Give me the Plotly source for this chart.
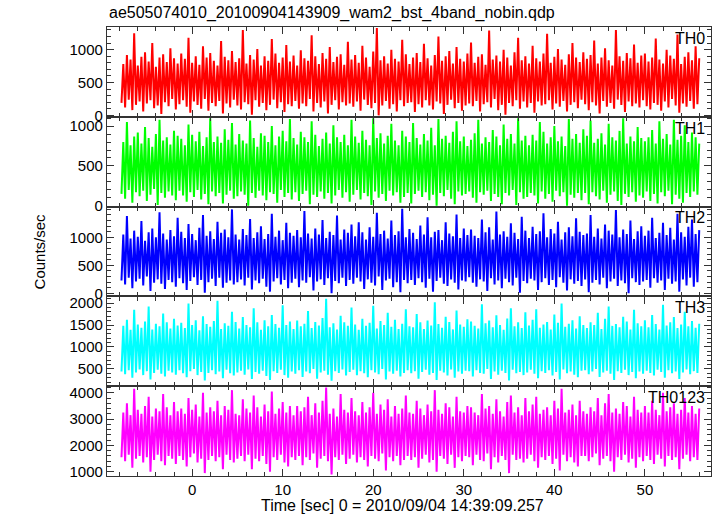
import plotly.graph_objects as go
from plotly.subplots import make_subplots
import numpy as np

title_text = "ae505074010_20100904143909_wam2_bst_4band_nobin.qdp"
band_names = ["TH0", "TH1", "TH2", "TH3", "TH0123"]
# time bins (sec): each bin holds the min and max count rate
t_start = -7.8
t_step = 0.4

th0_high = [
    780, 920, 850, 1250, 760, 890, 960, 820, 1100, 740, 880, 930, 810, 1020, 870, 790,
    940, 860, 1180, 800, 900, 770, 1050, 880, 950, 830, 760, 1130, 890, 840, 980, 810,
    870, 1300, 790, 920, 850, 1010, 760, 900, 830, 1160, 940, 800, 880, 1070, 820, 910,
    760, 990, 870, 830, 1220, 900, 780, 950, 860, 1040, 810, 890, 930, 770, 1120, 850,
    920, 800, 1060, 880, 740, 970, 1330, 840, 900, 790, 1000, 860, 820, 1150, 930, 780,
    880, 950, 810, 1090, 870, 760, 920, 1200, 830, 900, 980, 790, 1040, 860, 820, 940,
    1110, 800, 890, 930, 770, 1290, 850, 910, 820, 1000, 880, 760, 960, 1180, 840, 900,
    790, 1060, 870, 820, 940, 1240, 800, 890, 1010, 850, 770, 930, 1100, 880, 810, 960,
    860, 920, 1140, 790, 880, 1020, 840, 760, 1300, 900, 830, 950, 870, 1080, 800, 910,
    940, 820, 880, 1170, 850, 790, 1000, 910, 860, 1230, 780, 890, 960, 840, 1050, 870,
]
th0_low = [
    190, 120, 240, 80, 160, 210, 60, 180, 230, 110, 150, 20, 200, 140, 250, 90,
    170, 230, 130, 40, 210, 160, 100, 250, 70, 190, 140, 220, 30, 180, 120, 240,
    150, 90, 200, 170, 10, 230, 130, 190, 80, 160, 240, 110, 200, 50, 170, 140,
    220, 100, 180, 140, 250, 60, 190, 120, 210, 30, 160, 230, 90, 200, 150, 180,
    130, 210, 70, 240, 160, 110, 190, 0, 150, 220, 100, 170, 60, 230, 140, 190,
    200, 50, 170, 120, 230, 150, 90, 210, 180, 20, 160, 240, 110, 190, 70, 150,
    180, 140, 220, 60, 170, 200, 120, 250, 80, 160, 10, 190, 140, 230, 100, 210,
    120, 190, 40, 210, 150, 170, 230, 90, 180, 130, 220, 60, 160, 200, 110, 240,
    170, 80, 200, 150, 30, 220, 130, 190, 100, 240, 160, 50, 210, 140, 180, 120,
    230, 140, 90, 190, 160, 70, 210, 120, 250, 150, 40, 180, 130, 220, 100, 170,
]
th1_high = [
    800, 1050, 760, 870, 920, 780, 990, 850, 740, 900, 1080, 820, 860, 770, 940, 880,
    840, 760, 1020, 890, 810, 930, 750, 860, 1100, 800, 870, 790, 960, 830, 1040, 770,
    900, 820, 780, 1070, 850, 740, 910, 880, 800, 1000, 760, 870, 940, 810, 1090, 850,
    770, 930, 860, 800, 1060, 890, 750, 840, 920, 780, 1010, 860, 800, 890, 760, 1080,
    870, 790, 940, 830, 760, 1100, 850, 910, 780, 880, 1030, 820, 760, 940, 870, 800,
    1040, 850, 770, 900, 820, 980, 760, 1090, 840, 880, 790, 930, 1060, 810, 870, 750,
    830, 910, 1080, 780, 860, 800, 950, 870, 760, 1020, 840, 900, 780, 1100, 820, 880,
    760, 890, 820, 1050, 930, 780, 860, 1000, 810, 870, 750, 1090, 840, 900, 790, 960,
    880, 1070, 790, 840, 910, 770, 1030, 860, 820, 940, 1100, 780, 870, 810, 990, 850,
    810, 860, 950, 780, 1060, 840, 900, 770, 1080, 830, 880, 1010, 800, 920, 860, 780,
]
th1_low = [
    150, 90, 200, 40, 170, 120, 190, 60, 140, 210, 10, 160, 100, 180, 130, 70,
    190, 130, 50, 170, 110, 200, 80, 150, 20, 180, 120, 160, 30, 140, 190, 90,
    120, 180, 140, 0, 160, 100, 190, 130, 70, 170, 150, 40, 200, 110, 160, 80,
    170, 60, 150, 190, 20, 140, 110, 180, 90, 160, 30, 130, 200, 100, 170, 50,
    140, 200, 80, 160, 120, 10, 180, 100, 150, 60, 190, 130, 170, 40, 110, 160,
    30, 150, 190, 110, 170, 70, 140, 0, 160, 120, 200, 90, 20, 180, 130, 150,
    180, 100, 40, 170, 140, 190, 60, 150, 110, 20, 160, 130, 200, 10, 170, 90,
    110, 160, 130, 30, 180, 90, 150, 50, 190, 120, 170, 0, 140, 100, 160, 70,
    160, 20, 170, 120, 80, 190, 40, 140, 180, 60, 10, 150, 110, 170, 50, 130,
    100, 180, 60, 150, 30, 170, 120, 190, 20, 140, 90, 40, 160, 110, 180, 140,
]
th2_high = [
    1050, 1380, 980, 1120, 1010, 1290, 940, 1090, 1160, 1000, 1450, 1070, 960, 1130, 1020, 1350,
    1100, 990, 1240, 1060, 950, 1170, 1400, 1030, 1110, 970, 1280, 1080, 1140, 1000, 1500, 1050,
    960, 1150, 1040, 1330, 990, 1090, 1200, 970, 1060, 1420, 1010, 1120, 950, 1260, 1080, 1030,
    1130, 1000, 1470, 1070, 980, 1160, 1050, 1310, 990, 1100, 1040, 1390, 960, 1140, 1080, 1230,
    1020, 1270, 1090, 960, 1180, 1010, 1440, 1060, 1120, 980, 1300, 1040, 1110, 1510, 1000, 1150,
    1080, 970, 1210, 1050, 1360, 1000, 1100, 1130, 950, 1270, 1070, 1020, 1410, 990, 1160, 1040,
    1140, 1030, 990, 1320, 1090, 1180, 960, 1460, 1050, 1110, 1010, 1250, 1080, 970, 1370, 1120,
    990, 1190, 1060, 1110, 1430, 1000, 1150, 1070, 1280, 960, 1090, 1180, 1020, 1340, 1100, 1040,
    1070, 1400, 1010, 1160, 980, 1230, 1120, 1050, 1490, 1000, 1140, 1060, 1300, 970, 1110, 1200,
    1030, 1120, 1350, 990, 1080, 1260, 1040, 1170, 960, 1420, 1090, 1010, 1190, 1320, 1060, 1130,
]
th2_low = [
    230, 160, 280, 90, 210, 260, 140, 300, 40, 190, 250, 170, 80, 240, 200, 120,
    270, 180, 60, 220, 290, 150, 240, 10, 200, 260, 130, 280, 100, 190, 230, 160,
    200, 250, 140, 280, 70, 230, 180, 260, 120, 30, 210, 270, 160, 240, 90, 190,
    260, 110, 230, 190, 290, 50, 210, 250, 150, 270, 0, 220, 180, 280, 130, 240,
    170, 280, 210, 80, 250, 190, 140, 300, 60, 230, 260, 110, 200, 20, 240, 180,
    240, 150, 270, 200, 100, 260, 30, 220, 280, 170, 130, 250, 190, 70, 230, 210,
    290, 190, 120, 250, 210, 40, 270, 160, 230, 90, 260, 200, 140, 280, 10, 220,
    180, 260, 230, 60, 200, 270, 150, 240, 110, 290, 190, 50, 250, 170, 220, 130,
    250, 20, 190, 240, 160, 280, 90, 210, 260, 130, 230, 180, 0, 270, 200, 150,
    210, 240, 100, 270, 190, 230, 60, 260, 170, 210, 30, 250, 140, 280, 120, 200,
]
th3_high = [
    1480, 1620, 1390, 1850, 1510, 1440, 1580, 1920, 1400, 1530, 1470, 1760, 1560, 1420, 1640, 1490,
    1550, 1430, 1990, 1500, 1610, 1380, 1700, 1520, 1460, 1590, 2050, 1410, 1540, 1480, 1800, 1570,
    1420, 1680, 1500, 1450, 1880, 1560, 1390, 1610, 1470, 1730, 1520, 1440, 1950, 1500, 1580, 1410,
    1600, 1470, 1530, 1820, 1430, 1570, 1490, 1660, 2100, 1450, 1540, 1400, 1710, 1560, 1480, 1900,
    1510, 1390, 1640, 1480, 1550, 1940, 1420, 1590, 1500, 1780, 1460, 1620, 1410, 1530, 1860, 1470,
    1450, 1750, 1560, 1410, 1600, 1490, 2020, 1520, 1440, 1690, 1570, 1400, 1830, 1510, 1460, 1630,
    1580, 1480, 1420, 1970, 1540, 1600, 1450, 1720, 1500, 1390, 1650, 1880, 1470, 1560, 1430, 1790,
    1490, 1620, 1860, 1440, 1510, 1570, 1400, 1740, 1550, 1990, 1460, 1530, 1610, 1420, 1700, 1500,
    1430, 1560, 1500, 1780, 1410, 1640, 1920, 1480, 1520, 1450, 1690, 1580, 1400, 1850, 1540, 1470,
    1610, 1450, 1730, 1520, 1400, 1960, 1490, 1560, 1680, 1430, 1510, 1800, 1470, 1590, 1440, 1530,
]
th3_low = [
    440, 380, 470, 300, 420, 490, 360, 450, 260, 410, 480, 390, 330, 460, 420, 370,
    470, 400, 310, 450, 500, 360, 430, 240, 410, 470, 380, 440, 290, 480, 400, 350,
    420, 460, 370, 490, 270, 430, 390, 460, 340, 250, 450, 410, 480, 360, 300, 440,
    390, 470, 320, 440, 400, 500, 280, 420, 460, 370, 230, 450, 410, 490, 350, 430,
    480, 360, 450, 400, 310, 470, 420, 380, 500, 260, 440, 390, 460, 330, 410, 470,
    400, 450, 280, 430, 480, 370, 410, 250, 460, 420, 350, 490, 300, 440, 390, 460,
    450, 330, 470, 410, 390, 500, 270, 440, 370, 460, 410, 240, 480, 400, 430, 360,
    420, 480, 390, 290, 450, 410, 470, 350, 430, 260, 490, 400, 440, 370, 310, 460,
    470, 380, 440, 500, 320, 420, 460, 390, 250, 450, 410, 480, 360, 430, 290, 440,
    390, 460, 410, 350, 480, 430, 300, 470, 400, 440, 270, 420, 490, 380, 450, 410,
]
th0123_high = [
    3250, 3600, 3150, 4150, 3350, 3200, 3500, 3850, 3100, 3400, 3300, 3950, 3450, 3150, 3650, 3300,
    3400, 3200, 3800, 3350, 3550, 3100, 4000, 3250, 3450, 3300, 3700, 3150, 3500, 3350, 4100, 3200,
    3150, 3750, 3400, 3250, 3900, 3450, 3100, 3550, 3300, 4050, 3200, 3400, 3650, 3250, 3500, 3150,
    3500, 3300, 3450, 3850, 3150, 3600, 3250, 3700, 4200, 3200, 3400, 3100, 3950, 3350, 3250, 3800,
    3300, 3150, 3650, 3250, 3450, 4000, 3200, 3550, 3350, 3750, 3100, 3500, 3200, 3400, 3900, 3250,
    3200, 3700, 3400, 3150, 3550, 3300, 4100, 3350, 3200, 3600, 3450, 3100, 3850, 3300, 3250, 3500,
    3450, 3250, 3150, 3950, 3400, 3500, 3200, 3750, 3300, 3100, 3650, 3900, 3250, 3450, 3150, 3800,
    3300, 3550, 3850, 3200, 3350, 3450, 3150, 3700, 3400, 4150, 3250, 3350, 3550, 3150, 3700, 3300,
    3200, 3450, 3300, 3800, 3150, 3600, 3950, 3250, 3400, 3200, 3650, 3500, 3100, 3850, 3350, 3250,
    3500, 3250, 3700, 3350, 3150, 4000, 3300, 3450, 3600, 3200, 3350, 3800, 3250, 3500, 3200, 3400,
]
th0123_low = [
    1550, 1400, 1650, 1150, 1500, 1600, 1350, 1550, 1000, 1450, 1650, 1400, 1250, 1600, 1500, 1300,
    1600, 1450, 1200, 1550, 1700, 1350, 1500, 950, 1450, 1600, 1400, 1550, 1100, 1650, 1450, 1350,
    1500, 1600, 1400, 1650, 1100, 1500, 1400, 1600, 1300, 1000, 1550, 1450, 1650, 1350, 1200, 1550,
    1450, 1600, 1250, 1550, 1450, 1700, 1150, 1500, 1600, 1400, 900, 1550, 1450, 1650, 1300, 1500,
    1650, 1350, 1550, 1450, 1200, 1600, 1500, 1400, 1700, 1050, 1550, 1400, 1600, 1250, 1450, 1600,
    1450, 1550, 1150, 1500, 1650, 1350, 1450, 1000, 1600, 1500, 1300, 1650, 1150, 1550, 1400, 1600,
    1550, 1250, 1650, 1450, 1400, 1700, 1100, 1550, 1350, 1600, 1450, 950, 1650, 1450, 1500, 1350,
    1500, 1650, 1400, 1150, 1550, 1450, 1600, 1300, 1500, 1050, 1650, 1400, 1550, 1350, 1200, 1600,
    1600, 1400, 1550, 1700, 1250, 1500, 1600, 1400, 1000, 1550, 1450, 1650, 1350, 1500, 1150, 1550,
    1400, 1600, 1450, 1300, 1650, 1500, 1200, 1600, 1450, 1550, 1100, 1500, 1650, 1400, 1550, 1450,
]

lows = [th0_low, th1_low, th2_low, th3_low, th0123_low]
highs = [th0_high, th1_high, th2_high, th3_high, th0123_high]
colors = ["#ff0000", "#00ff00", "#0000ff", "#00ffff", "#ff00ff"]
y_ranges = [[-22, 1345], [-10, 1117], [-55, 1550], [107, 2152], [840, 4250]]
y_labels = [[0, 500, 1000], [0, 500, 1000], [0, 500, 1000],
            [500, 1000, 1500, 2000], [1000, 2000, 3000, 4000]]
y_minor = [100, 100, 100, 100, 200]
x_range = [-9.4, 57.3]

fig = make_subplots(rows=5, cols=1, shared_xaxes=True, vertical_spacing=0)

axcol = "#333333"
for i in range(5):
    lo = np.asarray(lows[i], dtype=float)
    hi = np.asarray(highs[i], dtype=float)
    tb = t_start + t_step * np.arange(len(lo))
    # each bin: trace goes from its minimum to its maximum
    xs = np.column_stack([tb, tb + t_step / 2]).ravel()
    ys = np.column_stack([lo, hi]).ravel()
    fig.add_trace(go.Scatter(x=xs, y=ys, mode="lines",
                             line=dict(color=colors[i], width=2),
                             showlegend=False, hoverinfo="skip"),
                  row=i + 1, col=1)
    fig.update_yaxes(range=y_ranges[i], tickmode="array", tickvals=y_labels[i],
                     ticks="inside", ticklen=7, tickwidth=1.2, tickcolor=axcol,
                     minor=dict(dtick=y_minor[i], tick0=0, ticks="inside", ticklen=4,
                                tickcolor=axcol, tickwidth=1),
                     showline=True, linecolor=axcol, linewidth=1.2, mirror="ticks",
                     showgrid=False, zeroline=False,
                     tickfont=dict(size=15, color="black"),
                     row=i + 1, col=1)
    fig.update_xaxes(range=x_range, dtick=10, tick0=0,
                     ticks="inside", ticklen=7, tickwidth=1.2, tickcolor=axcol,
                     minor=dict(dtick=2, ticks="inside", ticklen=4,
                                tickcolor=axcol, tickwidth=1),
                     showline=True, linecolor=axcol, linewidth=1.2, mirror="ticks",
                     showgrid=False, zeroline=False,
                     showticklabels=(i == 4),
                     tickfont=dict(size=15, color="black"),
                     row=i + 1, col=1)
    yref = "y domain" if i == 0 else "y%d domain" % (i + 1)
    xref = "x domain" if i == 0 else "x%d domain" % (i + 1)
    fig.add_annotation(text=band_names[i], xref=xref, yref=yref, x=0.993, y=0.99,
                       xanchor="right", yanchor="top", showarrow=False,
                       font=dict(size=16, color="black"))

fig.add_annotation(text=title_text, xref="paper", yref="paper", x=0.0, y=1.0,
                   xanchor="left", yanchor="bottom", yshift=3, showarrow=False,
                   font=dict(size=16, color="black"))
fig.add_annotation(text="Counts/sec", xref="paper", yref="paper", x=-0.111, y=0.5,
                   xanchor="center", yanchor="middle", textangle=-90, showarrow=False,
                   font=dict(size=15, color="black"))
fig.add_annotation(text="Time [sec] 0 = 2010/09/04 14:39:09.257", xref="paper", yref="paper",
                   x=0.49, y=0.0, yshift=-20, xanchor="center", yanchor="top",
                   showarrow=False, borderpad=0,
                   font=dict(size=16, color="black"))

fig.update_layout(width=717, height=516,
                  margin=dict(l=107, r=6, t=27, b=40),
                  plot_bgcolor="white", paper_bgcolor="white",
                  font=dict(family="Liberation Sans, Arial, sans-serif", size=15, color="black"))

fig.write_html("out.html", config={"displayModeBar": False},
               post_script="document.body.style.margin='0';document.documentElement.style.overflow='hidden';")
